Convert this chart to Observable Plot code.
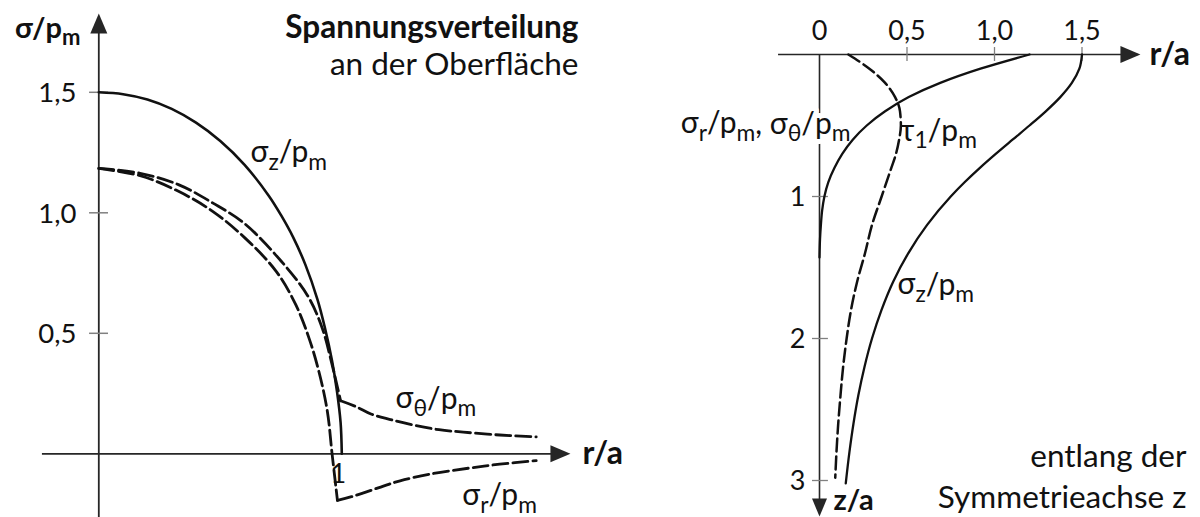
<!DOCTYPE html>
<html>
<head>
<meta charset="utf-8">
<script src="https://cdn.jsdelivr.net/npm/d3@7"></script>
<script src="https://cdn.jsdelivr.net/npm/@observablehq/plot@0.6"></script>
<style>
  html, body { margin: 0; padding: 0; background: #fff; }
  #chart { display: flex; width: 1200px; height: 517px; overflow: hidden; }
  #chart svg { overflow: visible; }
</style>
</head>
<body>
<div id="chart"></div>
<script>
// ---- Surface stresses (left): radius r/a against σ/pm ----
const surfaceSigZ_r = [0, 0.1, 0.2, 0.3, 0.4, 0.5, 0.6, 0.7, 0.75, 0.8, 0.85, 0.9, 0.93, 0.96, 0.98, 0.995, 1.0];
const surfaceSigZ_v = [1.5, 1.492, 1.47, 1.431, 1.374, 1.298, 1.199, 1.07, 0.99, 0.898, 0.785, 0.64, 0.525, 0.385, 0.26, 0.13, 0];

const surfaceSigTheta_r = [0, 0.17, 0.33, 0.47, 0.6, 0.75, 0.86, 0.92, 0.96, 0.98, 0.995, 1.06, 1.12, 1.2, 1.3, 1.4, 1.5, 1.65, 1.8];
const surfaceSigTheta_v = [1.184, 1.164, 1.116, 1.04, 0.955, 0.80, 0.655, 0.52, 0.37, 0.285, 0.22, 0.195, 0.165, 0.142, 0.118, 0.10, 0.09, 0.078, 0.07];
const surfaceSigTheta_kink = 0.995;

const surfaceSigR_r = [0, 0.17, 0.33, 0.47, 0.6, 0.73, 0.81, 0.865, 0.905, 0.94, 0.96, 0.982, 1.04, 1.16, 1.24, 1.37, 1.52, 1.65, 1.8];
const surfaceSigR_v = [1.184, 1.154, 1.088, 1.005, 0.897, 0.757, 0.62, 0.48, 0.344, 0.18, 0.0, -0.193, -0.178, -0.138, -0.112, -0.083, -0.06, -0.043, -0.028];
const surfaceSigR_kink = 0.982;

const surfaceTicks = [0.5, 1.0, 1.5];
const surfaceTickLabels = ["0,5", "1,0", "1,5"];

// ---- Stresses along the symmetry axis (right): depth z/a against r/a ----
const axisSigZ_z = [0, 0.1, 0.2, 0.3, 0.4, 0.5, 0.6, 0.7, 0.8, 0.9, 1.0, 1.2, 1.4, 1.6, 1.8, 2.0, 2.2, 2.4, 2.6, 2.8, 3.02];
const axisSigZ_v = [1.5, 1.485, 1.442, 1.376, 1.293, 1.2, 1.103, 1.007, 0.915, 0.829, 0.75, 0.615, 0.507, 0.421, 0.354, 0.3, 0.257, 0.222, 0.194, 0.171, 0.15];

const axisSigR_z = [0, 0.1, 0.2, 0.3, 0.4, 0.5, 0.6, 0.7, 0.8, 0.9, 1.0, 1.1, 1.2, 1.3, 1.43];
const axisSigR_v = [1.2, 0.92, 0.69, 0.51, 0.375, 0.27, 0.19, 0.13, 0.085, 0.05, 0.028, 0.015, 0.008, 0.003, 0];

const axisTau_z = [0, 0.1, 0.2, 0.3, 0.4, 0.5, 0.6, 0.7, 0.8, 1.0, 1.2, 1.4, 1.6, 1.8, 2.0, 2.2, 2.4, 2.6, 2.8, 2.98];
const axisTau_v = [0.165, 0.285, 0.375, 0.432, 0.46, 0.465, 0.455, 0.437, 0.41, 0.355, 0.30, 0.26, 0.215, 0.18, 0.155, 0.135, 0.12, 0.107, 0.097, 0.09];

const radiusTicks = [0, 0.5, 1.0, 1.5];
const radiusTickLabels = ["0", "0,5", "1,0", "1,5"];
const depthTicks = [1, 2, 3];
const depthTickLabels = ["1", "2", "3"];

// ---- styling ----
const FONT = "Lato, 'Open Sans', 'DejaVu Sans', sans-serif";
const INK = "#111";
const AXIS = "#262626";
const TICK = "#808080";
const DASH = "15,5";

const zip = (xs, ys) => xs.map((x, i) => ({x, y: ys[i]}));
const xyRev = (vs, zs) => vs.map((v, i) => ({x: v, y: zs[i]}));
// split a curve at its corner so each part is smoothed on its own
const splitAt = (xs, ys, k) => [
  ...xs.map((x, i) => ({x, y: ys[i], seg: "arc"})).filter(d => d.x <= k),
  ...xs.map((x, i) => ({x, y: ys[i], seg: "tail"})).filter(d => d.x >= k)
];

// filled triangular arrow head, tip at the anchor point
function arrowHead(dir, L = 20, W = 8.5) {
  return {
    draw(ctx) {
      const p = dir === "up" ? [[0, 0], [W, L], [-W, L]]
              : dir === "down" ? [[0, 0], [W, -L], [-W, -L]]
              : [[0, 0], [-L, W], [-L, -W]];
      ctx.moveTo(p[0][0], p[0][1]);
      ctx.lineTo(p[1][0], p[1][1]);
      ctx.lineTo(p[2][0], p[2][1]);
      ctx.closePath();
    }
  };
}

// turn "_x" markup into subscript tspans
function applySubscripts(svg) {
  const ns = "http://www.w3.org/2000/svg";
  svg.querySelectorAll("text").forEach(t => {
    const s = t.textContent;
    if (!s.includes("_")) return;
    while (t.firstChild) t.removeChild(t.firstChild);
    let buf = "", lowered = false;
    const flush = () => {
      if (!buf) return;
      const sp = document.createElementNS(ns, "tspan");
      sp.textContent = buf;
      if (lowered) { sp.setAttribute("dy", "-0.25em"); lowered = false; }
      t.appendChild(sp);
      buf = "";
    };
    for (let i = 0; i < s.length; i++) {
      if (s[i] === "_" && i + 1 < s.length) {
        flush();
        const sub = document.createElementNS(ns, "tspan");
        sub.textContent = s[i + 1];
        sub.setAttribute("font-size", "76%");
        sub.setAttribute("dy", lowered ? "0em" : "0.33em");
        t.appendChild(sub);
        lowered = true;
        i++;
      } else {
        buf += s[i];
      }
    }
    flush();
  });
}

// annotation text positions (data units of each panel)
const surfaceLabels = [
  {x: 0.6243, y: 1.209, text: "σ_z/p_m", anchor: "start", weight: "normal", size: 30},
  {x: 1.221, y: 0.188, text: "σ_θ/p_m", anchor: "start", weight: "normal", size: 30},
  {x: 1.496, y: -0.214, text: "σ_r/p_m", anchor: "start", weight: "normal", size: 30},
  {x: -0.0753, y: 1.727, text: "σ/p_m", anchor: "end", weight: "bold", size: 29},
  {x: 1.9741, y: 1.727, text: "Spannungsverteilung", anchor: "end", weight: "bold", size: 31.5},
  {x: 1.9741, y: 1.570, text: "an der Oberfläche", anchor: "end", weight: "normal", size: 31.5}
];

const axisLabels = [
  {x: 0.463, y: 0.606, text: "τ_1/p_m", anchor: "start", weight: "normal", size: 30},
  {x: 0.446, y: 1.69, text: "σ_z/p_m", anchor: "start", weight: "normal", size: 30},
  {x: 0.08, y: 3.208, text: "z/a", anchor: "start", weight: "bold", size: 29},
  {x: 2.097, y: 2.908, text: "entlang der", anchor: "end", weight: "normal", size: 31.5},
  {x: 2.097, y: 3.197, text: "Symmetrieachse z", anchor: "end", weight: "normal", size: 31.5}
];

function labelMarks(labels) {
  return ["start", "end"].flatMap(a => ["normal", "bold"].flatMap(w => {
    const sel = labels.filter(d => d.anchor === a && d.weight === w);
    if (!sel.length) return [];
    return [Plot.text(sel, {x: "x", y: "y", text: "text", textAnchor: a, lineAnchor: "bottom",
      fontWeight: w, fontSize: d => d.size, fill: INK})];
  }));
}

// ---------------- left panel ----------------
const left = Plot.plot({
  width: 650, height: 517, margin: 0,
  x: {domain: [0, 1], range: [98.3, 341.3], axis: null},
  y: {domain: [0, 1.5], range: [453.3, 91.8], axis: null},
  style: {fontFamily: FONT, background: "white", overflow: "visible"},
  marks: [
    Plot.ruleY([0], {x1: -0.232, x2: 1.93, stroke: AXIS, strokeWidth: 1.8}),
    Plot.ruleX([0], {y1: -0.3, y2: 1.8, stroke: AXIS, strokeWidth: 1.8}),
    Plot.dot([{x: 1.941, y: 0}], {x: "x", y: "y", symbol: arrowHead("right"), fill: AXIS, stroke: "none"}),
    Plot.dot([{x: 0, y: 1.827}], {x: "x", y: "y", symbol: arrowHead("up"), fill: AXIS, stroke: "none"}),
    Plot.ruleY(surfaceTicks, {y: d => d, x1: -0.038, x2: 0.04, stroke: TICK, strokeWidth: 1.5}),
    Plot.text(surfaceTicks, {x: -0.092, y: d => d, text: (d, i) => surfaceTickLabels[i], textAnchor: "end",
      lineAnchor: "middle", fontSize: 27.5, fill: INK, dy: 1}),
    Plot.text([{x: 0.986, y: -0.123, t: "1"}], {x: "x", y: "y", text: "t", lineAnchor: "bottom", fontSize: 27, fill: INK}),
    Plot.text([{x: 1.991, y: 0, t: "r/a"}], {x: "x", y: "y", text: "t", textAnchor: "start", lineAnchor: "middle",
      fontSize: 32, fontWeight: "bold", fill: INK}),
    Plot.line(zip(surfaceSigZ_r, surfaceSigZ_v), {x: "x", y: "y", curve: "catmull-rom", stroke: INK, strokeWidth: 2.6}),
    Plot.line(splitAt(surfaceSigTheta_r, surfaceSigTheta_v, surfaceSigTheta_kink), {x: "x", y: "y", z: "seg",
      curve: "catmull-rom", stroke: INK, strokeWidth: 2.8, strokeDasharray: DASH}),
    Plot.line(splitAt(surfaceSigR_r, surfaceSigR_v, surfaceSigR_kink), {x: "x", y: "y", z: "seg",
      curve: "catmull-rom", stroke: INK, strokeWidth: 2.8, strokeDasharray: DASH}),
    ...labelMarks(surfaceLabels)
  ]
});

// ---------------- right panel ----------------
const comboLabel = [{x: 0.177, y: 0.556, t: "σ_r/p_m, σ_θ/p_m"}];
const right = Plot.plot({
  width: 550, height: 517, margin: 0,
  x: {domain: [0, 1], range: [169, 344], axis: null},
  y: {domain: [0, 1], range: [54, 196], axis: null},
  style: {fontFamily: FONT, background: "white", overflow: "visible"},
  marks: [
    Plot.ruleY([0], {x1: -0.234, x2: 1.82, stroke: AXIS, strokeWidth: 1.6}),
    Plot.ruleX([0], {y1: 0, y2: 3.2, stroke: AXIS, strokeWidth: 1.6}),
    Plot.dot([{x: 1.834, y: 0}], {x: "x", y: "y", symbol: arrowHead("right"), fill: AXIS, stroke: "none"}),
    Plot.dot([{x: 0, y: 3.254}], {x: "x", y: "y", symbol: arrowHead("down", 18, 7.5), fill: AXIS, stroke: "none"}),
    Plot.ruleX(radiusTicks.slice(1), {x: d => d, y1: -0.049, y2: 0.049, stroke: TICK, strokeWidth: 1.3}),
    Plot.ruleY(depthTicks, {y: d => d, x1: -0.04, x2: 0.051, stroke: TICK, strokeWidth: 1.3}),
    Plot.text(radiusTicks, {x: d => d, y: -0.0986, text: (d, i) => radiusTickLabels[i], lineAnchor: "bottom",
      fontSize: 27, fill: INK}),
    Plot.text(depthTicks, {x: -0.08, y: d => d, text: (d, i) => depthTickLabels[i], textAnchor: "end",
      lineAnchor: "middle", fontSize: 27, fill: INK, dy: 1}),
    Plot.text([{x: 1.886, y: 0, t: "r/a"}], {x: "x", y: "y", text: "t", textAnchor: "start", lineAnchor: "middle",
      fontSize: 32, fontWeight: "bold", fill: INK}),
    // white backing for the combined label, which interrupts the vertical axis
    Plot.text(comboLabel, {x: "x", y: "y", text: "t", textAnchor: "end", lineAnchor: "bottom",
      fontSize: 30, fill: "white", stroke: "white", strokeWidth: 10}),
    Plot.text(comboLabel, {x: "x", y: "y", text: "t", textAnchor: "end", lineAnchor: "bottom",
      fontSize: 30, fill: INK}),
    Plot.line(xyRev(axisSigZ_v, axisSigZ_z), {x: "x", y: "y", curve: "monotone-y", stroke: INK, strokeWidth: 2.3}),
    Plot.line(xyRev(axisSigR_v, axisSigR_z), {x: "x", y: "y", curve: "monotone-y", stroke: INK, strokeWidth: 2.3}),
    Plot.line(xyRev(axisTau_v, axisTau_z), {x: "x", y: "y", curve: "monotone-y", stroke: INK,
      strokeWidth: 2.5, strokeDasharray: "13,5"}),
    ...labelMarks(axisLabels)
  ]
});

applySubscripts(left);
applySubscripts(right);
const chart = document.getElementById("chart");
chart.appendChild(left);
chart.appendChild(right);
</script>
</body>
</html>
